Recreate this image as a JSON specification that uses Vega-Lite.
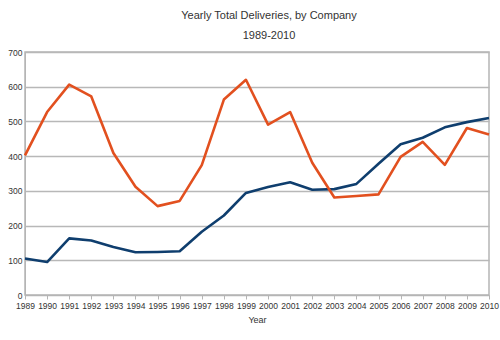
{
  "$schema": "https://vega.github.io/schema/vega-lite/v6.json",
  "autosize": {"type": "none"},
  "width": 464,
  "height": 243,
  "padding": {"left": 25, "top": 52, "right": 11, "bottom": 45},
  "background": "white",
  "title": {
    "text": "Yearly Total Deliveries, by Company",
    "subtitle": "1989-2010",
    "anchor": "middle",
    "dx": 12,
    "font": "Liberation Sans",
    "subtitleFont": "Liberation Sans",
    "fontSize": 11,
    "subtitleFontSize": 11,
    "fontWeight": "normal",
    "color": "#333333",
    "subtitleColor": "#333333",
    "subtitlePadding": 9,
    "offset": 7
  },
  "config": {
    "view": {"stroke": "#b5b5b5", "strokeWidth": 1.5},
    "axis": {
      "labelFont": "Liberation Sans",
      "titleFont": "Liberation Sans",
      "labelColor": "#333333",
      "titleColor": "#333333",
      "gridColor": "#b8b8b8",
      "gridWidth": 1.5,
      "domainColor": "#b5b5b5",
      "tickColor": "#b5b5b5"
    }
  },
  "data": {
    "values": [
      {"year": 1989, "company": "Airbus", "deliveries": 105},
      {"year": 1990, "company": "Airbus", "deliveries": 95},
      {"year": 1991, "company": "Airbus", "deliveries": 163},
      {"year": 1992, "company": "Airbus", "deliveries": 157},
      {"year": 1993, "company": "Airbus", "deliveries": 138},
      {"year": 1994, "company": "Airbus", "deliveries": 123},
      {"year": 1995, "company": "Airbus", "deliveries": 124},
      {"year": 1996, "company": "Airbus", "deliveries": 126},
      {"year": 1997, "company": "Airbus", "deliveries": 182},
      {"year": 1998, "company": "Airbus", "deliveries": 229},
      {"year": 1999, "company": "Airbus", "deliveries": 294},
      {"year": 2000, "company": "Airbus", "deliveries": 311},
      {"year": 2001, "company": "Airbus", "deliveries": 325},
      {"year": 2002, "company": "Airbus", "deliveries": 303},
      {"year": 2003, "company": "Airbus", "deliveries": 305},
      {"year": 2004, "company": "Airbus", "deliveries": 320},
      {"year": 2005, "company": "Airbus", "deliveries": 378},
      {"year": 2006, "company": "Airbus", "deliveries": 434},
      {"year": 2007, "company": "Airbus", "deliveries": 453},
      {"year": 2008, "company": "Airbus", "deliveries": 483},
      {"year": 2009, "company": "Airbus", "deliveries": 498},
      {"year": 2010, "company": "Airbus", "deliveries": 510},
      {"year": 1989, "company": "Boeing", "deliveries": 402},
      {"year": 1990, "company": "Boeing", "deliveries": 527},
      {"year": 1991, "company": "Boeing", "deliveries": 606},
      {"year": 1992, "company": "Boeing", "deliveries": 572},
      {"year": 1993, "company": "Boeing", "deliveries": 409},
      {"year": 1994, "company": "Boeing", "deliveries": 312},
      {"year": 1995, "company": "Boeing", "deliveries": 256},
      {"year": 1996, "company": "Boeing", "deliveries": 271},
      {"year": 1997, "company": "Boeing", "deliveries": 374},
      {"year": 1998, "company": "Boeing", "deliveries": 563},
      {"year": 1999, "company": "Boeing", "deliveries": 620},
      {"year": 2000, "company": "Boeing", "deliveries": 491},
      {"year": 2001, "company": "Boeing", "deliveries": 527},
      {"year": 2002, "company": "Boeing", "deliveries": 381},
      {"year": 2003, "company": "Boeing", "deliveries": 281},
      {"year": 2004, "company": "Boeing", "deliveries": 285},
      {"year": 2005, "company": "Boeing", "deliveries": 290},
      {"year": 2006, "company": "Boeing", "deliveries": 398},
      {"year": 2007, "company": "Boeing", "deliveries": 441},
      {"year": 2008, "company": "Boeing", "deliveries": 375},
      {"year": 2009, "company": "Boeing", "deliveries": 481},
      {"year": 2010, "company": "Boeing", "deliveries": 462}
    ]
  },
  "mark": {"type": "line", "strokeWidth": 2.6, "strokeJoin": "round"},
  "encoding": {
    "x": {
      "field": "year",
      "type": "quantitative",
      "scale": {"domain": [1989, 2010], "nice": false, "zero": false},
      "axis": {
        "title": "Year",
        "titleFontSize": 9,
        "titleFontWeight": "normal",
        "titlePadding": 6,
        "values": [1989,1990,1991,1992,1993,1994,1995,1996,1997,1998,1999,2000,2001,2002,2003,2004,2005,2006,2007,2008,2009,2010],
        "format": "d",
        "labelFontSize": 8.5,
        "labelPadding": 2,
        "labelOverlap": false,
        "labelFlush": false,
        "tickSize": 4,
        "grid": false
      }
    },
    "y": {
      "field": "deliveries",
      "type": "quantitative",
      "scale": {"domain": [0, 700], "nice": false},
      "axis": {
        "title": null,
        "values": [0,100,200,300,400,500,600,700],
        "labelFontSize": 8.5,
        "labelPadding": 3,
        "ticks": false,
        "labelFlush": false
      }
    },
    "color": {
      "field": "company",
      "type": "nominal",
      "scale": {"domain": ["Airbus", "Boeing"], "range": ["#0f3e6e", "#e2501f"]},
      "legend": null
    }
  }
}
